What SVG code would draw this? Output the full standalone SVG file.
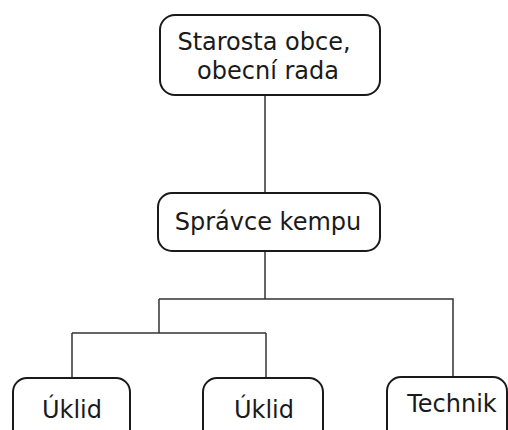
<svg xmlns="http://www.w3.org/2000/svg" width="508" height="430" viewBox="0 0 508 430">
<style>
.box{fill:#fff;stroke:#1a1a1a;stroke-width:2}
.t{font-family:"DejaVu Sans",Verdana,sans-serif;font-size:24px;fill:#1a1a1a;text-anchor:middle}
.c{fill:none;stroke:#333;stroke-width:1.5}
</style>
<rect width="508" height="430" fill="#fff"/>
<g id="connectors">
<path class="c" d="M265 95V193"/>
<path class="c" d="M265 251V299"/>
<path class="c" d="M159 299H453V377"/>
<path class="c" d="M159 299V333"/>
<path class="c" d="M72 333H266"/>
<path class="c" d="M72 333V378"/>
<path class="c" d="M266 333V378"/>
</g>
<g id="n-starosta">
<rect class="box" x="160" y="15" width="220" height="80" rx="15"/>
<text class="t" x="264" y="50">Starosta obce,</text>
<text class="t" x="268" y="79">obecní rada</text>
</g>
<g id="n-spravce">
<rect class="box" x="158" y="193" width="222" height="58" rx="14"/>
<text class="t" x="268" y="230">Správce kempu</text>
</g>
<g id="n-uklid1">
<rect class="box" x="13" y="378" width="117" height="70" rx="14"/>
<text class="t" x="72" y="418">Úklid</text>
</g>
<g id="n-uklid2">
<rect class="box" x="203" y="378" width="120" height="70" rx="14"/>
<text class="t" x="264" y="418">Úklid</text>
</g>
<g id="n-technik">
<rect class="box" x="387" y="377" width="120" height="70" rx="14"/>
<text class="t" x="452" y="412">Technik</text>
</g>
</svg>
